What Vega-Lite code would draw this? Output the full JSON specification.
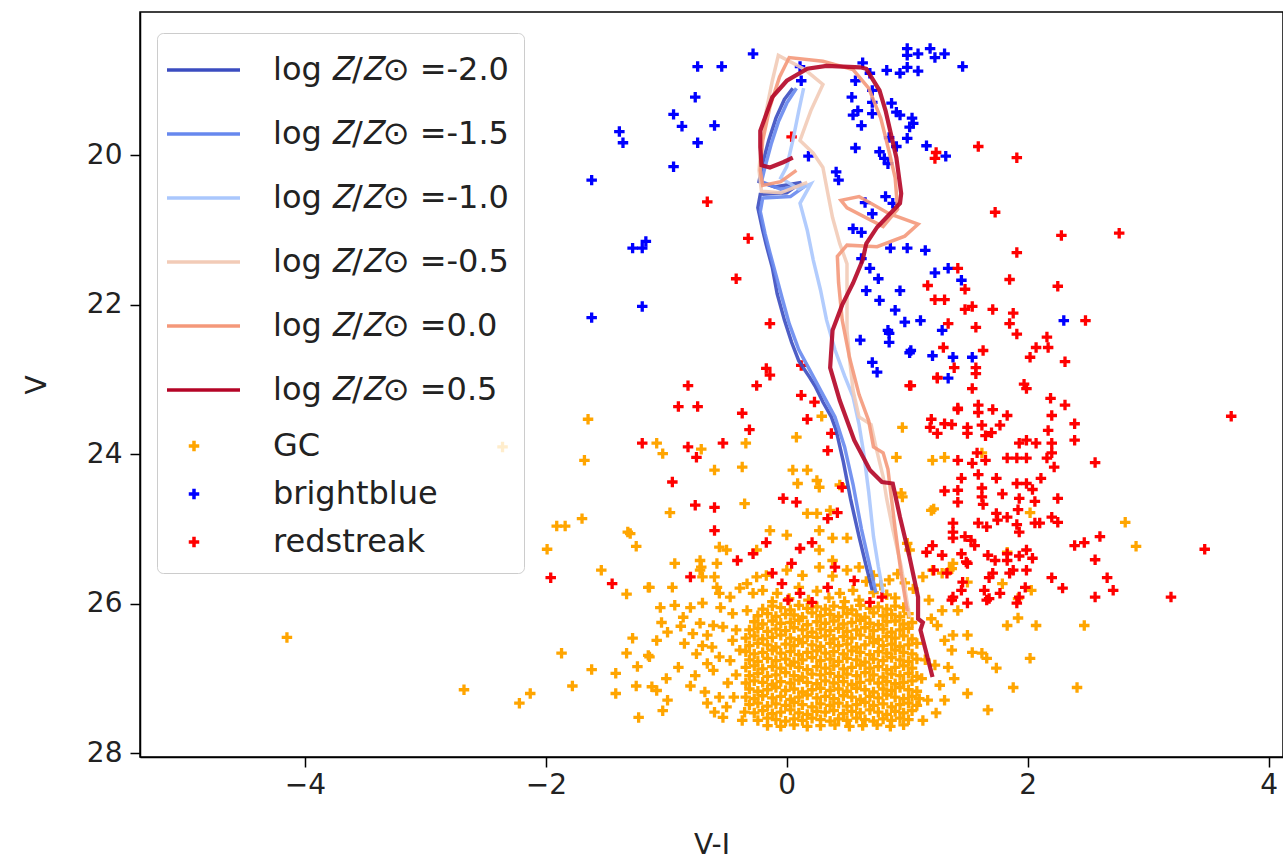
{
"$schema":"https://vega.github.io/schema/vega-lite/v6.json",
"width":1143,"height":745,
"autosize":{"type":"none"},
"padding":{"left":140,"top":12,"right":0,"bottom":107},
"config":{
"view":{"stroke":"#000","strokeWidth":1.5},
"axis":{"domainColor":"#000","domainWidth":1.5,"tickColor":"#000","tickWidth":1.5,"tickSize":10,"labelFont":"DejaVu Sans","labelFontSize":28,"labelColor":"#222","titleFont":"DejaVu Sans","titleFontSize":28,"titleFontWeight":"normal","titleColor":"#222","grid":false,"labelPadding":8}
},
"datasets":{
"iso":[
{"s":"-2.0","i":0,"c":0.05,"v":19.1},{"s":"-2.0","i":1,"c":-0.02,"v":19.25},{"s":"-2.0","i":2,"c":-0.09,"v":19.5},{"s":"-2.0","i":3,"c":-0.15,"v":19.8},{"s":"-2.0","i":4,"c":-0.2,"v":20.1},{"s":"-2.0","i":5,"c":-0.23,"v":20.35},{"s":"-2.0","i":6,"c":-0.1,"v":20.42},{"s":"-2.0","i":7,"c":0.12,"v":20.36},{"s":"-2.0","i":8,"c":0.0,"v":20.5},{"s":"-2.0","i":9,"c":-0.22,"v":20.52},{"s":"-2.0","i":10,"c":-0.24,"v":20.7},{"s":"-2.0","i":11,"c":-0.2,"v":21.0},{"s":"-2.0","i":12,"c":-0.17,"v":21.2},{"s":"-2.0","i":13,"c":-0.12,"v":21.5},{"s":"-2.0","i":14,"c":-0.08,"v":21.85},{"s":"-2.0","i":15,"c":-0.02,"v":22.2},{"s":"-2.0","i":16,"c":0.04,"v":22.5},{"s":"-2.0","i":17,"c":0.1,"v":22.75},{"s":"-2.0","i":18,"c":0.19,"v":22.97},{"s":"-2.0","i":19,"c":0.24,"v":23.1},{"s":"-2.0","i":20,"c":0.3,"v":23.3},{"s":"-2.0","i":21,"c":0.37,"v":23.5},{"s":"-2.0","i":22,"c":0.41,"v":23.68},{"s":"-2.0","i":23,"c":0.47,"v":24.1},{"s":"-2.0","i":24,"c":0.53,"v":24.6},{"s":"-2.0","i":25,"c":0.6,"v":25.1},{"s":"-2.0","i":26,"c":0.66,"v":25.5},{"s":"-2.0","i":27,"c":0.71,"v":25.82},
{"s":"-1.5","i":0,"c":0.08,"v":19.1},{"s":"-1.5","i":1,"c":0.0,"v":19.3},{"s":"-1.5","i":2,"c":-0.07,"v":19.55},{"s":"-1.5","i":3,"c":-0.13,"v":19.85},{"s":"-1.5","i":4,"c":-0.18,"v":20.15},{"s":"-1.5","i":5,"c":-0.21,"v":20.35},{"s":"-1.5","i":6,"c":-0.05,"v":20.45},{"s":"-1.5","i":7,"c":0.16,"v":20.4},{"s":"-1.5","i":8,"c":0.03,"v":20.55},{"s":"-1.5","i":9,"c":-0.2,"v":20.57},{"s":"-1.5","i":10,"c":-0.22,"v":20.75},{"s":"-1.5","i":11,"c":-0.18,"v":21.05},{"s":"-1.5","i":12,"c":-0.14,"v":21.3},{"s":"-1.5","i":13,"c":-0.09,"v":21.6},{"s":"-1.5","i":14,"c":-0.04,"v":21.9},{"s":"-1.5","i":15,"c":0.02,"v":22.25},{"s":"-1.5","i":16,"c":0.1,"v":22.6},{"s":"-1.5","i":17,"c":0.2,"v":22.9},{"s":"-1.5","i":18,"c":0.3,"v":23.2},{"s":"-1.5","i":19,"c":0.4,"v":23.5},{"s":"-1.5","i":20,"c":0.48,"v":23.9},{"s":"-1.5","i":21,"c":0.55,"v":24.4},{"s":"-1.5","i":22,"c":0.62,"v":25.0},{"s":"-1.5","i":23,"c":0.69,"v":25.5},{"s":"-1.5","i":24,"c":0.74,"v":25.85},
{"s":"-1.0","i":0,"c":0.14,"v":19.1},{"s":"-1.0","i":1,"c":0.1,"v":19.4},{"s":"-1.0","i":2,"c":0.05,"v":19.8},{"s":"-1.0","i":3,"c":0.0,"v":20.15},{"s":"-1.0","i":4,"c":-0.05,"v":20.3},{"s":"-1.0","i":5,"c":0.1,"v":20.45},{"s":"-1.0","i":6,"c":0.2,"v":20.38},{"s":"-1.0","i":7,"c":0.11,"v":20.64},{"s":"-1.0","i":8,"c":0.17,"v":21.0},{"s":"-1.0","i":9,"c":0.22,"v":21.4},{"s":"-1.0","i":10,"c":0.28,"v":21.8},{"s":"-1.0","i":11,"c":0.33,"v":22.2},{"s":"-1.0","i":12,"c":0.4,"v":22.6},{"s":"-1.0","i":13,"c":0.48,"v":22.95},{"s":"-1.0","i":14,"c":0.55,"v":23.23},{"s":"-1.0","i":15,"c":0.6,"v":23.6},{"s":"-1.0","i":16,"c":0.64,"v":24.0},{"s":"-1.0","i":17,"c":0.68,"v":24.5},{"s":"-1.0","i":18,"c":0.72,"v":25.1},{"s":"-1.0","i":19,"c":0.76,"v":25.5},{"s":"-1.0","i":20,"c":0.8,"v":25.85},
{"s":"-0.5","i":0,"c":1.02,"v":26.18},{"s":"-0.5","i":1,"c":0.95,"v":25.5},{"s":"-0.5","i":2,"c":0.88,"v":25.0},{"s":"-0.5","i":3,"c":0.83,"v":24.6},{"s":"-0.5","i":4,"c":0.8,"v":24.3},{"s":"-0.5","i":5,"c":0.74,"v":23.9},{"s":"-0.5","i":6,"c":0.7,"v":23.6},{"s":"-0.5","i":7,"c":0.6,"v":23.5},{"s":"-0.5","i":8,"c":0.55,"v":23.14},{"s":"-0.5","i":9,"c":0.52,"v":22.7},{"s":"-0.5","i":10,"c":0.5,"v":22.34},{"s":"-0.5","i":11,"c":0.5,"v":21.9},{"s":"-0.5","i":12,"c":0.5,"v":21.45},{"s":"-0.5","i":13,"c":0.44,"v":21.18},{"s":"-0.5","i":14,"c":0.38,"v":20.83},{"s":"-0.5","i":15,"c":0.34,"v":20.5},{"s":"-0.5","i":16,"c":0.3,"v":20.16},{"s":"-0.5","i":17,"c":0.22,"v":19.97},{"s":"-0.5","i":18,"c":0.11,"v":19.8},{"s":"-0.5","i":19,"c":0.2,"v":19.4},{"s":"-0.5","i":20,"c":0.3,"v":19.05},{"s":"-0.5","i":21,"c":0.15,"v":18.85},{"s":"-0.5","i":22,"c":-0.07,"v":18.66},{"s":"-0.5","i":23,"c":-0.12,"v":19.0},{"s":"-0.5","i":24,"c":-0.17,"v":19.4},{"s":"-0.5","i":25,"c":-0.21,"v":19.8},{"s":"-0.5","i":26,"c":-0.23,"v":20.2},{"s":"-0.5","i":27,"c":-0.21,"v":20.48},{"s":"-0.5","i":28,"c":-0.05,"v":20.5},{"s":"-0.5","i":29,"c":0.17,"v":20.36},
{"s":"0.0","i":0,"c":1.0,"v":26.1},{"s":"0.0","i":1,"c":0.95,"v":25.6},{"s":"0.0","i":2,"c":0.9,"v":25.0},{"s":"0.0","i":3,"c":0.87,"v":24.6},{"s":"0.0","i":4,"c":0.84,"v":24.2},{"s":"0.0","i":5,"c":0.8,"v":23.98},{"s":"0.0","i":6,"c":0.72,"v":23.9},{"s":"0.0","i":7,"c":0.68,"v":23.55},{"s":"0.0","i":8,"c":0.6,"v":23.2},{"s":"0.0","i":9,"c":0.52,"v":22.7},{"s":"0.0","i":10,"c":0.46,"v":22.2},{"s":"0.0","i":11,"c":0.43,"v":21.7},{"s":"0.0","i":12,"c":0.42,"v":21.35},{"s":"0.0","i":13,"c":0.5,"v":21.2},{"s":"0.0","i":14,"c":0.75,"v":21.22},{"s":"0.0","i":15,"c":0.98,"v":21.08},{"s":"0.0","i":16,"c":1.09,"v":20.92},{"s":"0.0","i":17,"c":0.85,"v":20.78},{"s":"0.0","i":18,"c":0.6,"v":20.55},{"s":"0.0","i":19,"c":0.45,"v":20.6},{"s":"0.0","i":20,"c":0.5,"v":20.7},{"s":"0.0","i":21,"c":0.8,"v":20.95},{"s":"0.0","i":22,"c":0.92,"v":20.72},{"s":"0.0","i":23,"c":0.9,"v":20.3},{"s":"0.0","i":24,"c":0.85,"v":19.95},{"s":"0.0","i":25,"c":0.78,"v":19.5},{"s":"0.0","i":26,"c":0.68,"v":19.1},{"s":"0.0","i":27,"c":0.55,"v":18.85},{"s":"0.0","i":28,"c":0.3,"v":18.74},{"s":"0.0","i":29,"c":0.02,"v":18.69},{"s":"0.0","i":30,"c":-0.06,"v":18.95},{"s":"0.0","i":31,"c":-0.14,"v":19.35},{"s":"0.0","i":32,"c":-0.2,"v":19.8},{"s":"0.0","i":33,"c":-0.22,"v":20.2},{"s":"0.0","i":34,"c":-0.2,"v":20.4},{"s":"0.0","i":35,"c":-0.05,"v":20.35},{"s":"0.0","i":36,"c":0.08,"v":20.2},
{"s":"0.5","i":0,"c":1.21,"v":26.98},{"s":"0.5","i":1,"c":1.15,"v":26.6},{"s":"0.5","i":2,"c":1.11,"v":26.35},{"s":"0.5","i":3,"c":1.13,"v":26.25},{"s":"0.5","i":4,"c":1.09,"v":26.2},{"s":"0.5","i":5,"c":1.09,"v":25.91},{"s":"0.5","i":6,"c":1.02,"v":25.38},{"s":"0.5","i":7,"c":0.94,"v":24.84},{"s":"0.5","i":8,"c":0.88,"v":24.39},{"s":"0.5","i":9,"c":0.79,"v":24.37},{"s":"0.5","i":10,"c":0.69,"v":24.21},{"s":"0.5","i":11,"c":0.56,"v":23.81},{"s":"0.5","i":12,"c":0.44,"v":23.28},{"s":"0.5","i":13,"c":0.36,"v":22.84},{"s":"0.5","i":14,"c":0.38,"v":22.34},{"s":"0.5","i":15,"c":0.46,"v":22.0},{"s":"0.5","i":16,"c":0.55,"v":21.71},{"s":"0.5","i":17,"c":0.63,"v":21.4},{"s":"0.5","i":18,"c":0.66,"v":21.18},{"s":"0.5","i":19,"c":0.75,"v":20.96},{"s":"0.5","i":20,"c":0.94,"v":20.64},{"s":"0.5","i":21,"c":0.95,"v":20.51},{"s":"0.5","i":22,"c":0.91,"v":20.03},{"s":"0.5","i":23,"c":0.87,"v":19.75},{"s":"0.5","i":24,"c":0.82,"v":19.4},{"s":"0.5","i":25,"c":0.77,"v":19.13},{"s":"0.5","i":26,"c":0.66,"v":18.84},{"s":"0.5","i":27,"c":0.61,"v":18.82},{"s":"0.5","i":28,"c":0.33,"v":18.8},{"s":"0.5","i":29,"c":0.17,"v":18.84},{"s":"0.5","i":30,"c":0.0,"v":19.0},{"s":"0.5","i":31,"c":-0.12,"v":19.22},{"s":"0.5","i":32,"c":-0.18,"v":19.49},{"s":"0.5","i":33,"c":-0.22,"v":19.67},{"s":"0.5","i":34,"c":-0.22,"v":19.89},{"s":"0.5","i":35,"c":-0.21,"v":20.13},{"s":"0.5","i":36,"c":-0.14,"v":20.16},{"s":"0.5","i":37,"c":-0.03,"v":20.09},{"s":"0.5","i":38,"c":0.05,"v":20.03}
],
"pts":[
{"s":"GC","c":-4.15,"v":26.45},{"s":"GC","c":-2.68,"v":27.15},{"s":"GC","c":-2.22,"v":27.33},{"s":"GC","c":-2.13,"v":27.2},{"s":"GC","c":-2.36,"v":23.9},{"s":"GC","c":-1.65,"v":23.53},{"s":"GC","c":-1.68,"v":24.08},{"s":"GC","c":-1.7,"v":24.86},{"s":"GC","c":-1.91,"v":24.96},{"s":"GC","c":-1.84,"v":24.96},{"s":"GC","c":-1.99,"v":25.27},{"s":"GC","c":-1.3,"v":25.06},{"s":"GC","c":-1.25,"v":25.23},{"s":"GC","c":-1.54,"v":25.55},{"s":"GC","c":-1.33,"v":25.87},{"s":"GC","c":-1.15,"v":25.78},{"s":"GC","c":-1.28,"v":26.46},{"s":"GC","c":-1.33,"v":26.66},{"s":"GC","c":-1.15,"v":26.69},{"s":"GC","c":-1.87,"v":26.66},{"s":"GC","c":-1.62,"v":26.88},{"s":"GC","c":-1.42,"v":26.93},{"s":"GC","c":-1.24,"v":26.84},{"s":"GC","c":-1.25,"v":27.1},{"s":"GC","c":-1.78,"v":27.1},{"s":"GC","c":-1.42,"v":27.2},{"s":"GC","c":-1.23,"v":27.52},
{"s":"GC","c":0.29,"v":23.49},{"s":"GC","c":0.08,"v":23.77},{"s":"GC","c":-0.34,"v":23.85},{"s":"GC","c":-1.08,"v":23.85},{"s":"GC","c":-1.03,"v":23.99},{"s":"GC","c":-0.71,"v":23.93},{"s":"GC","c":-0.37,"v":24.17},{"s":"GC","c":-0.6,"v":24.21},{"s":"GC","c":0.05,"v":24.21},{"s":"GC","c":0.17,"v":24.21},{"s":"GC","c":0.09,"v":24.39},{"s":"GC","c":0.25,"v":24.35},{"s":"GC","c":0.27,"v":24.44},{"s":"GC","c":0.44,"v":24.41},{"s":"GC","c":0.91,"v":24.04},{"s":"GC","c":0.96,"v":23.64},{"s":"GC","c":0.95,"v":24.52},{"s":"GC","c":-0.35,"v":24.66},{"s":"GC","c":-0.97,"v":24.78},{"s":"GC","c":0.17,"v":24.79},{"s":"GC","c":0.25,"v":24.79},{"s":"GC","c":0.36,"v":24.75},{"s":"GC","c":-1.32,"v":25.04},{"s":"GC","c":-0.14,"v":25.02},{"s":"GC","c":0.0,"v":25.08},{"s":"GC","c":0.27,"v":25.02},{"s":"GC","c":0.38,"v":25.12},{"s":"GC","c":0.5,"v":25.12},{"s":"GC","c":-0.56,"v":25.24},{"s":"GC","c":-0.5,"v":25.28},{"s":"GC","c":-0.93,"v":25.46},{"s":"GC","c":-0.72,"v":25.42},{"s":"GC","c":-0.58,"v":25.46},{"s":"GC","c":-0.25,"v":25.28},{"s":"GC","c":0.27,"v":25.28},{"s":"GC","c":0.38,"v":25.42},{"s":"GC","c":0.5,"v":25.55},{"s":"GC","c":-0.72,"v":25.55},{"s":"GC","c":-0.7,"v":25.64},{"s":"GC","c":-1.14,"v":25.78},{"s":"GC","c":-0.95,"v":25.78},{"s":"GC","c":-0.58,"v":25.78},{"s":"GC","c":-0.33,"v":25.73},{"s":"GC","c":-0.25,"v":25.64},{"s":"GC","c":1.21,"v":25.55},{"s":"GC","c":1.2,"v":24.75},{"s":"GC","c":1.21,"v":24.08},{"s":"GC","c":1.31,"v":24.04},{"s":"GC","c":1.0,"v":25.19},{"s":"GC","c":1.02,"v":25.28},{"s":"GC","c":1.13,"v":25.64},{"s":"GC","c":1.35,"v":25.55},{"s":"GC","c":1.38,"v":25.46},
{"s":"GC","c":0.96,"v":24.57},{"s":"GC","c":1.22,"v":24.73},{"s":"GC","c":2.02,"v":24.78},{"s":"GC","c":2.81,"v":24.91},{"s":"GC","c":2.9,"v":25.23},{"s":"GC","c":1.62,"v":23.98},{"s":"GC","c":1.83,"v":25.31},{"s":"GC","c":1.29,"v":25.59},{"s":"GC","c":1.37,"v":25.53},{"s":"GC","c":1.5,"v":25.71},{"s":"GC","c":1.79,"v":25.73},{"s":"GC","c":2.03,"v":25.82},{"s":"GC","c":1.42,"v":26.09},{"s":"GC","c":1.29,"v":26.09},{"s":"GC","c":1.25,"v":26.29},{"s":"GC","c":1.38,"v":26.42},{"s":"GC","c":1.5,"v":26.42},{"s":"GC","c":1.31,"v":26.49},{"s":"GC","c":1.37,"v":26.62},{"s":"GC","c":1.54,"v":26.65},{"s":"GC","c":1.62,"v":26.66},{"s":"GC","c":1.66,"v":26.73},{"s":"GC","c":1.23,"v":26.82},{"s":"GC","c":1.34,"v":26.85},{"s":"GC","c":1.39,"v":27.0},{"s":"GC","c":1.27,"v":27.09},{"s":"GC","c":1.74,"v":26.86},{"s":"GC","c":2.02,"v":26.73},{"s":"GC","c":1.88,"v":27.12},{"s":"GC","c":2.41,"v":27.12},{"s":"GC","c":1.5,"v":27.2},{"s":"GC","c":1.31,"v":27.29},{"s":"GC","c":1.17,"v":27.29},{"s":"GC","c":1.24,"v":27.46},{"s":"GC","c":1.67,"v":27.42},{"s":"GC","c":1.13,"v":27.56},{"s":"GC","c":1.83,"v":26.29},{"s":"GC","c":1.92,"v":26.19},{"s":"GC","c":2.07,"v":26.29},{"s":"GC","c":2.47,"v":26.29},{"s":"GC","c":1.92,"v":25.93},{"s":"GC","c":1.18,"v":25.95},{"s":"GC","c":1.2,"v":26.2},{"s":"GC","c":1.15,"v":26.75},{"s":"GC","c":1.12,"v":27.0},
{"s":"GC","c":-1.05,"v":26.05},{"s":"GC","c":-0.8,"v":26.05},{"s":"GC","c":-0.93,"v":26.02},{"s":"GC","c":-1.04,"v":26.25},{"s":"GC","c":-0.86,"v":26.18},{"s":"GC","c":-0.72,"v":26.26},{"s":"GC","c":-1.08,"v":26.49},{"s":"GC","c":-0.99,"v":26.38},{"s":"GC","c":-0.85,"v":26.53},{"s":"GC","c":-0.7,"v":26.56},{"s":"GC","c":-1.14,"v":26.71},{"s":"GC","c":-1.0,"v":27.0},{"s":"GC","c":-1.12,"v":27.11},{"s":"GC","c":-1.08,"v":27.16},{"s":"GC","c":-0.99,"v":27.29},{"s":"GC","c":-1.03,"v":27.43},{"s":"GC","c":-0.75,"v":26.67},{"s":"GC","c":-0.66,"v":26.8},{"s":"GC","c":-0.56,"v":26.71},{"s":"GC","c":-0.76,"v":26.96},{"s":"GC","c":-0.61,"v":26.89},{"s":"GC","c":-0.49,"v":27.06},{"s":"GC","c":-0.68,"v":27.18},{"s":"GC","c":-0.56,"v":27.25},{"s":"GC","c":-0.66,"v":27.33},{"s":"GC","c":-0.5,"v":27.38},{"s":"GC","c":-0.53,"v":27.52},{"s":"GC","c":-0.35,"v":27.45},{"s":"GC","c":-0.37,"v":27.56},{"s":"GC","c":-0.78,"v":26.4},{"s":"GC","c":-0.53,"v":26.31},{"s":"GC","c":-0.45,"v":26.49},{"s":"GC","c":-0.39,"v":26.62},{"s":"GC","c":-0.47,"v":26.76},{"s":"GC","c":-0.45,"v":26.13},{"s":"GC","c":-0.61,"v":26.29},{"s":"GC","c":-0.33,"v":26.09},{"s":"GC","c":-0.56,"v":25.86},{"s":"GC","c":-0.39,"v":25.79},{"s":"GC","c":-0.47,"v":25.91},{"s":"GC","c":-0.28,"v":25.86},{"s":"GC","c":-0.7,"v":25.99},{"s":"GC","c":-0.6,"v":25.64},{"s":"GC","c":-0.71,"v":25.51},{"s":"GC","c":-0.88,"v":26.3},{"s":"GC","c":-0.62,"v":26.58},{"s":"GC","c":-0.42,"v":26.95},{"s":"GC","c":-0.8,"v":27.1},{"s":"GC","c":-0.44,"v":27.25},{"s":"GC","c":-0.6,"v":27.45},{"s":"GC","c":-0.9,"v":26.85},{"s":"GC","c":-0.42,"v":26.35},{"s":"GC","c":-0.55,"v":26.05},{"s":"GC","c":-0.66,"v":26.42},
{"s":"GC","c":-0.17,"v":25.62},{"s":"GC","c":0.0,"v":25.55},{"s":"GC","c":0.13,"v":25.62},{"s":"GC","c":0.27,"v":25.51},{"s":"GC","c":0.38,"v":25.63},{"s":"GC","c":0.6,"v":25.51},{"s":"GC","c":-0.2,"v":25.82},{"s":"GC","c":-0.08,"v":25.86},{"s":"GC","c":0.25,"v":25.83},{"s":"GC","c":0.44,"v":25.86},{"s":"GC","c":0.55,"v":25.82},{"s":"GC","c":0.6,"v":25.95},{"s":"GC","c":0.66,"v":25.7},{"s":"GC","c":0.72,"v":25.62},{"s":"GC","c":0.78,"v":25.75},{"s":"GC","c":0.85,"v":25.68},{"s":"GC","c":0.92,"v":25.6},{"s":"GC","c":0.98,"v":25.72},{"s":"GC","c":1.05,"v":25.8},{"s":"GC","c":0.83,"v":25.88},{"s":"GC","c":0.72,"v":25.85},{"s":"GC","c":0.9,"v":25.92},{"s":"GC","c":0.35,"v":25.92},{"s":"GC","c":0.1,"v":25.78},{"s":"GC","c":0.02,"v":25.93},{"s":"GC","c":0.18,"v":25.95},{"s":"GC","c":0.48,"v":25.97},{"s":"GC","c":-0.12,"v":25.97},
{"s":"GC","c":-0.2,"v":26.07},{"s":"GC","c":-0.12,"v":26.03},{"s":"GC","c":-0.05,"v":26.05},{"s":"GC","c":0.03,"v":26.08},{"s":"GC","c":0.1,"v":26.02},{"s":"GC","c":0.17,"v":26.06},{"s":"GC","c":0.25,"v":26.04},{"s":"GC","c":0.32,"v":26.07},{"s":"GC","c":0.39,"v":26.03},{"s":"GC","c":0.47,"v":26.05},{"s":"GC","c":0.54,"v":26.08},{"s":"GC","c":0.61,"v":26.02},{"s":"GC","c":0.69,"v":26.06},{"s":"GC","c":0.76,"v":26.04},{"s":"GC","c":0.83,"v":26.07},{"s":"GC","c":0.9,"v":26.03},{"s":"GC","c":0.97,"v":26.05},
{"s":"GC","c":-0.24,"v":26.16},{"s":"GC","c":-0.16,"v":26.13},{"s":"GC","c":-0.09,"v":26.17},{"s":"GC","c":-0.01,"v":26.14},{"s":"GC","c":0.06,"v":26.15},{"s":"GC","c":0.13,"v":26.18},{"s":"GC","c":0.21,"v":26.12},{"s":"GC","c":0.28,"v":26.16},{"s":"GC","c":0.36,"v":26.14},{"s":"GC","c":0.43,"v":26.17},{"s":"GC","c":0.5,"v":26.13},{"s":"GC","c":0.58,"v":26.15},{"s":"GC","c":0.65,"v":26.18},{"s":"GC","c":0.72,"v":26.12},{"s":"GC","c":0.8,"v":26.16},{"s":"GC","c":0.87,"v":26.14},{"s":"GC","c":0.94,"v":26.17},{"s":"GC","c":1.01,"v":26.13},
{"s":"GC","c":-0.27,"v":26.24},{"s":"GC","c":-0.2,"v":26.27},{"s":"GC","c":-0.12,"v":26.23},{"s":"GC","c":-0.05,"v":26.26},{"s":"GC","c":0.03,"v":26.25},{"s":"GC","c":0.1,"v":26.22},{"s":"GC","c":0.17,"v":26.28},{"s":"GC","c":0.25,"v":26.24},{"s":"GC","c":0.32,"v":26.26},{"s":"GC","c":0.39,"v":26.23},{"s":"GC","c":0.47,"v":26.27},{"s":"GC","c":0.54,"v":26.25},{"s":"GC","c":0.61,"v":26.22},{"s":"GC","c":0.69,"v":26.26},{"s":"GC","c":0.76,"v":26.28},{"s":"GC","c":0.83,"v":26.24},{"s":"GC","c":0.9,"v":26.23},{"s":"GC","c":0.97,"v":26.27},{"s":"GC","c":1.04,"v":26.25},
{"s":"GC","c":-0.31,"v":26.35},{"s":"GC","c":-0.24,"v":26.33},{"s":"GC","c":-0.16,"v":26.37},{"s":"GC","c":-0.09,"v":26.34},{"s":"GC","c":-0.01,"v":26.36},{"s":"GC","c":0.06,"v":26.32},{"s":"GC","c":0.13,"v":26.35},{"s":"GC","c":0.21,"v":26.38},{"s":"GC","c":0.28,"v":26.34},{"s":"GC","c":0.36,"v":26.36},{"s":"GC","c":0.43,"v":26.33},{"s":"GC","c":0.5,"v":26.37},{"s":"GC","c":0.58,"v":26.35},{"s":"GC","c":0.65,"v":26.32},{"s":"GC","c":0.72,"v":26.36},{"s":"GC","c":0.8,"v":26.34},{"s":"GC","c":0.87,"v":26.38},{"s":"GC","c":0.94,"v":26.35},{"s":"GC","c":1.01,"v":26.33},
{"s":"GC","c":-0.34,"v":26.46},{"s":"GC","c":-0.27,"v":26.43},{"s":"GC","c":-0.2,"v":26.47},{"s":"GC","c":-0.12,"v":26.45},{"s":"GC","c":-0.05,"v":26.42},{"s":"GC","c":0.03,"v":26.46},{"s":"GC","c":0.1,"v":26.48},{"s":"GC","c":0.17,"v":26.44},{"s":"GC","c":0.25,"v":26.45},{"s":"GC","c":0.32,"v":26.43},{"s":"GC","c":0.39,"v":26.47},{"s":"GC","c":0.47,"v":26.44},{"s":"GC","c":0.54,"v":26.46},{"s":"GC","c":0.61,"v":26.42},{"s":"GC","c":0.69,"v":26.45},{"s":"GC","c":0.76,"v":26.48},{"s":"GC","c":0.83,"v":26.44},{"s":"GC","c":0.9,"v":26.46},{"s":"GC","c":0.97,"v":26.43},{"s":"GC","c":1.04,"v":26.47},
{"s":"GC","c":-0.31,"v":26.56},{"s":"GC","c":-0.24,"v":26.53},{"s":"GC","c":-0.16,"v":26.55},{"s":"GC","c":-0.09,"v":26.58},{"s":"GC","c":-0.01,"v":26.54},{"s":"GC","c":0.06,"v":26.56},{"s":"GC","c":0.13,"v":26.52},{"s":"GC","c":0.21,"v":26.55},{"s":"GC","c":0.28,"v":26.57},{"s":"GC","c":0.36,"v":26.53},{"s":"GC","c":0.43,"v":26.56},{"s":"GC","c":0.5,"v":26.54},{"s":"GC","c":0.58,"v":26.58},{"s":"GC","c":0.65,"v":26.55},{"s":"GC","c":0.72,"v":26.52},{"s":"GC","c":0.8,"v":26.56},{"s":"GC","c":0.87,"v":26.54},{"s":"GC","c":0.94,"v":26.57},{"s":"GC","c":1.01,"v":26.55},{"s":"GC","c":1.08,"v":26.53},
{"s":"GC","c":-0.34,"v":26.64},{"s":"GC","c":-0.27,"v":26.67},{"s":"GC","c":-0.2,"v":26.65},{"s":"GC","c":-0.12,"v":26.62},{"s":"GC","c":-0.05,"v":26.66},{"s":"GC","c":0.03,"v":26.64},{"s":"GC","c":0.1,"v":26.68},{"s":"GC","c":0.17,"v":26.65},{"s":"GC","c":0.25,"v":26.63},{"s":"GC","c":0.32,"v":26.66},{"s":"GC","c":0.39,"v":26.64},{"s":"GC","c":0.47,"v":26.67},{"s":"GC","c":0.54,"v":26.63},{"s":"GC","c":0.61,"v":26.65},{"s":"GC","c":0.69,"v":26.68},{"s":"GC","c":0.76,"v":26.64},{"s":"GC","c":0.83,"v":26.66},{"s":"GC","c":0.9,"v":26.62},{"s":"GC","c":0.97,"v":26.65},{"s":"GC","c":1.04,"v":26.67},
{"s":"GC","c":-0.31,"v":26.75},{"s":"GC","c":-0.24,"v":26.77},{"s":"GC","c":-0.16,"v":26.73},{"s":"GC","c":-0.09,"v":26.76},{"s":"GC","c":-0.01,"v":26.74},{"s":"GC","c":0.06,"v":26.78},{"s":"GC","c":0.13,"v":26.75},{"s":"GC","c":0.21,"v":26.72},{"s":"GC","c":0.28,"v":26.76},{"s":"GC","c":0.36,"v":26.74},{"s":"GC","c":0.43,"v":26.77},{"s":"GC","c":0.5,"v":26.73},{"s":"GC","c":0.58,"v":26.75},{"s":"GC","c":0.65,"v":26.78},{"s":"GC","c":0.72,"v":26.74},{"s":"GC","c":0.8,"v":26.76},{"s":"GC","c":0.87,"v":26.72},{"s":"GC","c":0.94,"v":26.75},{"s":"GC","c":1.01,"v":26.77},{"s":"GC","c":1.08,"v":26.74},
{"s":"GC","c":-0.34,"v":26.85},{"s":"GC","c":-0.27,"v":26.83},{"s":"GC","c":-0.2,"v":26.87},{"s":"GC","c":-0.12,"v":26.84},{"s":"GC","c":-0.05,"v":26.86},{"s":"GC","c":0.03,"v":26.82},{"s":"GC","c":0.1,"v":26.85},{"s":"GC","c":0.17,"v":26.88},{"s":"GC","c":0.25,"v":26.84},{"s":"GC","c":0.32,"v":26.86},{"s":"GC","c":0.39,"v":26.83},{"s":"GC","c":0.47,"v":26.87},{"s":"GC","c":0.54,"v":26.85},{"s":"GC","c":0.61,"v":26.82},{"s":"GC","c":0.69,"v":26.86},{"s":"GC","c":0.76,"v":26.84},{"s":"GC","c":0.83,"v":26.88},{"s":"GC","c":0.9,"v":26.85},{"s":"GC","c":0.97,"v":26.83},{"s":"GC","c":1.04,"v":26.86},
{"s":"GC","c":-0.31,"v":26.96},{"s":"GC","c":-0.24,"v":26.93},{"s":"GC","c":-0.16,"v":26.97},{"s":"GC","c":-0.09,"v":26.95},{"s":"GC","c":-0.01,"v":26.92},{"s":"GC","c":0.06,"v":26.96},{"s":"GC","c":0.13,"v":26.98},{"s":"GC","c":0.21,"v":26.94},{"s":"GC","c":0.28,"v":26.95},{"s":"GC","c":0.36,"v":26.93},{"s":"GC","c":0.43,"v":26.97},{"s":"GC","c":0.5,"v":26.94},{"s":"GC","c":0.58,"v":26.96},{"s":"GC","c":0.65,"v":26.92},{"s":"GC","c":0.72,"v":26.95},{"s":"GC","c":0.8,"v":26.98},{"s":"GC","c":0.87,"v":26.94},{"s":"GC","c":0.94,"v":26.96},{"s":"GC","c":1.01,"v":26.93},{"s":"GC","c":1.08,"v":26.97},
{"s":"GC","c":-0.34,"v":27.06},{"s":"GC","c":-0.27,"v":27.03},{"s":"GC","c":-0.2,"v":27.05},{"s":"GC","c":-0.12,"v":27.08},{"s":"GC","c":-0.05,"v":27.04},{"s":"GC","c":0.03,"v":27.06},{"s":"GC","c":0.1,"v":27.02},{"s":"GC","c":0.17,"v":27.05},{"s":"GC","c":0.25,"v":27.07},{"s":"GC","c":0.32,"v":27.03},{"s":"GC","c":0.39,"v":27.06},{"s":"GC","c":0.47,"v":27.04},{"s":"GC","c":0.54,"v":27.08},{"s":"GC","c":0.61,"v":27.05},{"s":"GC","c":0.69,"v":27.02},{"s":"GC","c":0.76,"v":27.06},{"s":"GC","c":0.83,"v":27.04},{"s":"GC","c":0.9,"v":27.07},{"s":"GC","c":0.97,"v":27.05},{"s":"GC","c":1.04,"v":27.03},
{"s":"GC","c":-0.31,"v":27.14},{"s":"GC","c":-0.24,"v":27.17},{"s":"GC","c":-0.16,"v":27.15},{"s":"GC","c":-0.09,"v":27.12},{"s":"GC","c":-0.01,"v":27.16},{"s":"GC","c":0.06,"v":27.14},{"s":"GC","c":0.13,"v":27.18},{"s":"GC","c":0.21,"v":27.15},{"s":"GC","c":0.28,"v":27.13},{"s":"GC","c":0.36,"v":27.16},{"s":"GC","c":0.43,"v":27.14},{"s":"GC","c":0.5,"v":27.17},{"s":"GC","c":0.58,"v":27.13},{"s":"GC","c":0.65,"v":27.15},{"s":"GC","c":0.72,"v":27.18},{"s":"GC","c":0.8,"v":27.14},{"s":"GC","c":0.87,"v":27.16},{"s":"GC","c":0.94,"v":27.12},{"s":"GC","c":1.01,"v":27.15},{"s":"GC","c":1.08,"v":27.17},
{"s":"GC","c":-0.34,"v":27.25},{"s":"GC","c":-0.27,"v":27.27},{"s":"GC","c":-0.2,"v":27.23},{"s":"GC","c":-0.12,"v":27.26},{"s":"GC","c":-0.05,"v":27.24},{"s":"GC","c":0.03,"v":27.28},{"s":"GC","c":0.1,"v":27.25},{"s":"GC","c":0.17,"v":27.22},{"s":"GC","c":0.25,"v":27.26},{"s":"GC","c":0.32,"v":27.24},{"s":"GC","c":0.39,"v":27.27},{"s":"GC","c":0.47,"v":27.23},{"s":"GC","c":0.54,"v":27.25},{"s":"GC","c":0.61,"v":27.28},{"s":"GC","c":0.69,"v":27.24},{"s":"GC","c":0.76,"v":27.26},{"s":"GC","c":0.83,"v":27.22},{"s":"GC","c":0.9,"v":27.25},{"s":"GC","c":0.97,"v":27.27},{"s":"GC","c":1.04,"v":27.24},{"s":"GC","c":1.1,"v":27.27},
{"s":"GC","c":-0.31,"v":27.35},{"s":"GC","c":-0.24,"v":27.33},{"s":"GC","c":-0.16,"v":27.37},{"s":"GC","c":-0.09,"v":27.34},{"s":"GC","c":-0.01,"v":27.36},{"s":"GC","c":0.06,"v":27.32},{"s":"GC","c":0.13,"v":27.35},{"s":"GC","c":0.21,"v":27.38},{"s":"GC","c":0.28,"v":27.34},{"s":"GC","c":0.36,"v":27.36},{"s":"GC","c":0.43,"v":27.33},{"s":"GC","c":0.5,"v":27.37},{"s":"GC","c":0.58,"v":27.35},{"s":"GC","c":0.65,"v":27.32},{"s":"GC","c":0.72,"v":27.36},{"s":"GC","c":0.8,"v":27.34},{"s":"GC","c":0.87,"v":27.38},{"s":"GC","c":0.94,"v":27.35},{"s":"GC","c":1.01,"v":27.33},{"s":"GC","c":1.08,"v":27.36},
{"s":"GC","c":-0.27,"v":27.46},{"s":"GC","c":-0.2,"v":27.43},{"s":"GC","c":-0.12,"v":27.47},{"s":"GC","c":-0.05,"v":27.45},{"s":"GC","c":0.03,"v":27.42},{"s":"GC","c":0.1,"v":27.46},{"s":"GC","c":0.17,"v":27.48},{"s":"GC","c":0.25,"v":27.44},{"s":"GC","c":0.32,"v":27.45},{"s":"GC","c":0.39,"v":27.43},{"s":"GC","c":0.47,"v":27.47},{"s":"GC","c":0.54,"v":27.44},{"s":"GC","c":0.61,"v":27.46},{"s":"GC","c":0.69,"v":27.42},{"s":"GC","c":0.76,"v":27.45},{"s":"GC","c":0.83,"v":27.48},{"s":"GC","c":0.9,"v":27.44},{"s":"GC","c":0.97,"v":27.46},{"s":"GC","c":1.04,"v":27.43},
{"s":"GC","c":-0.24,"v":27.56},{"s":"GC","c":-0.16,"v":27.53},{"s":"GC","c":-0.09,"v":27.55},{"s":"GC","c":-0.01,"v":27.57},{"s":"GC","c":0.06,"v":27.54},{"s":"GC","c":0.13,"v":27.56},{"s":"GC","c":0.21,"v":27.53},{"s":"GC","c":0.28,"v":27.55},{"s":"GC","c":0.36,"v":27.57},{"s":"GC","c":0.43,"v":27.54},{"s":"GC","c":0.5,"v":27.56},{"s":"GC","c":0.58,"v":27.53},{"s":"GC","c":0.65,"v":27.55},{"s":"GC","c":0.72,"v":27.57},{"s":"GC","c":0.8,"v":27.54},{"s":"GC","c":0.87,"v":27.56},{"s":"GC","c":0.94,"v":27.53},{"s":"GC","c":1.01,"v":27.55},
{"s":"GC","c":-0.16,"v":27.63},{"s":"GC","c":-0.05,"v":27.64},{"s":"GC","c":0.06,"v":27.62},{"s":"GC","c":0.17,"v":27.64},{"s":"GC","c":0.28,"v":27.63},{"s":"GC","c":0.4,"v":27.62},{"s":"GC","c":0.52,"v":27.64},{"s":"GC","c":0.63,"v":27.63},{"s":"GC","c":0.75,"v":27.62},{"s":"GC","c":0.86,"v":27.64},{"s":"GC","c":0.97,"v":27.62},
{"s":"brightblue","c":-0.28,"v":18.64},{"s":"brightblue","c":-0.74,"v":18.81},{"s":"brightblue","c":-0.54,"v":18.81},{"s":"brightblue","c":-0.76,"v":19.22},{"s":"brightblue","c":-0.94,"v":19.45},{"s":"brightblue","c":-0.87,"v":19.61},{"s":"brightblue","c":-0.6,"v":19.6},{"s":"brightblue","c":-1.39,"v":19.68},{"s":"brightblue","c":-1.36,"v":19.83},{"s":"brightblue","c":-0.74,"v":19.83},{"s":"brightblue","c":-0.94,"v":20.15},{"s":"brightblue","c":-1.62,"v":20.33},{"s":"brightblue","c":-1.28,"v":21.24},{"s":"brightblue","c":-1.17,"v":21.15},{"s":"brightblue","c":-1.2,"v":21.24},{"s":"brightblue","c":1.0,"v":18.57},{"s":"brightblue","c":1.0,"v":18.66},{"s":"brightblue","c":1.09,"v":18.64},{"s":"brightblue","c":1.19,"v":18.57},{"s":"brightblue","c":1.23,"v":18.69},{"s":"brightblue","c":1.31,"v":18.64},{"s":"brightblue","c":1.46,"v":18.81},{"s":"brightblue","c":0.83,"v":18.86},{"s":"brightblue","c":0.94,"v":18.9},{"s":"brightblue","c":1.0,"v":18.82},{"s":"brightblue","c":1.09,"v":18.87},{"s":"brightblue","c":0.63,"v":18.76},{"s":"brightblue","c":0.69,"v":18.9},{"s":"brightblue","c":0.57,"v":19.0},{"s":"brightblue","c":0.71,"v":19.13},{"s":"brightblue","c":0.54,"v":19.22},{"s":"brightblue","c":0.71,"v":19.29},{"s":"brightblue","c":0.87,"v":19.3},{"s":"brightblue","c":0.91,"v":19.42},{"s":"brightblue","c":0.94,"v":19.46},{"s":"brightblue","c":0.55,"v":19.46},{"s":"brightblue","c":0.59,"v":19.4},{"s":"brightblue","c":0.62,"v":19.6},{"s":"brightblue","c":0.71,"v":19.44},{"s":"brightblue","c":1.04,"v":19.5},{"s":"brightblue","c":1.05,"v":19.57},{"s":"brightblue","c":1.02,"v":19.62},{"s":"brightblue","c":0.85,"v":19.76},{"s":"brightblue","c":1.0,"v":19.77},{"s":"brightblue","c":0.91,"v":19.88},{"s":"brightblue","c":1.16,"v":19.87},{"s":"brightblue","c":1.32,"v":20.01},{"s":"brightblue","c":0.57,"v":19.9},{"s":"brightblue","c":0.77,"v":19.95},{"s":"brightblue","c":0.81,"v":20.04},{"s":"brightblue","c":0.84,"v":20.11},{"s":"brightblue","c":0.18,"v":20.01},{"s":"brightblue","c":0.41,"v":20.22},{"s":"brightblue","c":0.43,"v":20.33},{"s":"brightblue","c":0.82,"v":20.55},{"s":"brightblue","c":0.88,"v":20.64},{"s":"brightblue","c":0.65,"v":20.63},{"s":"brightblue","c":0.71,"v":20.78},{"s":"brightblue","c":0.55,"v":20.98},{"s":"brightblue","c":0.62,"v":21.03},{"s":"brightblue","c":0.86,"v":21.24},{"s":"brightblue","c":1.0,"v":21.24},{"s":"brightblue","c":0.11,"v":18.81},{"s":"brightblue","c":0.12,"v":19.0},
{"s":"brightblue","c":0.85,"v":22.38},{"s":"brightblue","c":0.85,"v":22.5},{"s":"brightblue","c":1.02,"v":22.64},{"s":"brightblue","c":0.71,"v":22.77},{"s":"brightblue","c":0.75,"v":22.9},{"s":"brightblue","c":1.21,"v":22.68},{"s":"brightblue","c":1.38,"v":22.7},{"s":"brightblue","c":1.34,"v":22.98},{"s":"brightblue","c":1.11,"v":22.21},{"s":"brightblue","c":1.03,"v":22.61},{"s":"brightblue","c":1.54,"v":22.7},{"s":"brightblue","c":2.3,"v":22.21},{"s":"brightblue","c":0.62,"v":21.38},{"s":"brightblue","c":0.69,"v":21.51},{"s":"brightblue","c":0.76,"v":21.65},{"s":"brightblue","c":0.66,"v":21.81},{"s":"brightblue","c":0.77,"v":21.94},{"s":"brightblue","c":0.9,"v":22.07},{"s":"brightblue","c":0.98,"v":22.23},{"s":"brightblue","c":0.84,"v":22.34},{"s":"brightblue","c":1.23,"v":21.57},{"s":"brightblue","c":1.34,"v":21.51},{"s":"brightblue","c":1.45,"v":21.67},{"s":"brightblue","c":1.15,"v":21.27},{"s":"brightblue","c":0.94,"v":21.81},{"s":"brightblue","c":0.61,"v":22.47},{"s":"brightblue","c":1.29,"v":22.34},{"s":"brightblue","c":-1.62,"v":22.17},{"s":"brightblue","c":-1.2,"v":22.02},
{"s":"redstreak","c":2.28,"v":21.07},{"s":"redstreak","c":2.76,"v":21.04},{"s":"redstreak","c":1.91,"v":21.3},{"s":"redstreak","c":1.42,"v":21.51},{"s":"redstreak","c":1.85,"v":21.66},{"s":"redstreak","c":2.25,"v":21.75},{"s":"redstreak","c":1.17,"v":21.74},{"s":"redstreak","c":1.48,"v":21.79},{"s":"redstreak","c":1.23,"v":21.93},{"s":"redstreak","c":1.31,"v":21.93},{"s":"redstreak","c":1.48,"v":22.06},{"s":"redstreak","c":1.54,"v":22.02},{"s":"redstreak","c":1.71,"v":22.06},{"s":"redstreak","c":1.88,"v":22.11},{"s":"redstreak","c":1.85,"v":22.25},{"s":"redstreak","c":1.34,"v":22.25},{"s":"redstreak","c":1.57,"v":22.3},{"s":"redstreak","c":1.91,"v":22.39},{"s":"redstreak","c":2.48,"v":22.21},{"s":"redstreak","c":2.16,"v":22.43},{"s":"redstreak","c":2.07,"v":22.57},{"s":"redstreak","c":2.17,"v":22.57},{"s":"redstreak","c":2.31,"v":22.76},{"s":"redstreak","c":2.02,"v":22.7},{"s":"redstreak","c":1.63,"v":22.61},{"s":"redstreak","c":1.3,"v":22.57},{"s":"redstreak","c":1.39,"v":22.84},{"s":"redstreak","c":1.57,"v":22.84},{"s":"redstreak","c":1.57,"v":22.92},{"s":"redstreak","c":1.25,"v":22.98},{"s":"redstreak","c":1.03,"v":23.08},{"s":"redstreak","c":1.54,"v":23.12},{"s":"redstreak","c":1.97,"v":23.06},{"s":"redstreak","c":1.99,"v":23.12},{"s":"redstreak","c":2.19,"v":23.25},{"s":"redstreak","c":2.31,"v":23.34},{"s":"redstreak","c":1.42,"v":23.4},{"s":"redstreak","c":1.59,"v":23.34},{"s":"redstreak","c":1.59,"v":23.44},{"s":"redstreak","c":1.71,"v":23.4},{"s":"redstreak","c":1.83,"v":23.48},{"s":"redstreak","c":2.2,"v":23.48},{"s":"redstreak","c":2.39,"v":23.59},{"s":"redstreak","c":1.2,"v":23.53},{"s":"redstreak","c":1.31,"v":23.59},{"s":"redstreak","c":1.37,"v":23.6},{"s":"redstreak","c":1.19,"v":23.64},{"s":"redstreak","c":1.25,"v":23.72},{"s":"redstreak","c":1.5,"v":23.64},{"s":"redstreak","c":1.5,"v":23.72},{"s":"redstreak","c":1.62,"v":23.61},{"s":"redstreak","c":1.65,"v":23.75},{"s":"redstreak","c":1.7,"v":23.71},{"s":"redstreak","c":1.77,"v":23.61},{"s":"redstreak","c":2.17,"v":23.68},{"s":"redstreak","c":2.39,"v":23.81},{"s":"redstreak","c":3.69,"v":23.49},{"s":"redstreak","c":1.93,"v":23.85},{"s":"redstreak","c":1.99,"v":23.81},{"s":"redstreak","c":2.07,"v":23.85},{"s":"redstreak","c":2.2,"v":23.85},{"s":"redstreak","c":2.2,"v":23.98},{"s":"redstreak","c":2.16,"v":24.05},{"s":"redstreak","c":2.22,"v":24.17},{"s":"redstreak","c":1.58,"v":23.98},{"s":"redstreak","c":1.65,"v":24.08},{"s":"redstreak","c":1.54,"v":24.12},{"s":"redstreak","c":1.42,"v":24.08},{"s":"redstreak","c":1.83,"v":24.05},{"s":"redstreak","c":1.91,"v":24.05},{"s":"redstreak","c":1.99,"v":24.05},{"s":"redstreak","c":2.56,"v":24.11},{"s":"redstreak","c":1.45,"v":24.32},{"s":"redstreak","c":1.59,"v":24.27},{"s":"redstreak","c":1.74,"v":24.32},{"s":"redstreak","c":2.11,"v":24.32},{"s":"redstreak","c":1.31,"v":24.49},{"s":"redstreak","c":1.42,"v":24.48},{"s":"redstreak","c":1.62,"v":24.45},{"s":"redstreak","c":1.62,"v":24.57},{"s":"redstreak","c":1.79,"v":24.53},{"s":"redstreak","c":1.91,"v":24.39},{"s":"redstreak","c":1.99,"v":24.39},{"s":"redstreak","c":2.04,"v":24.47},{"s":"redstreak","c":1.93,"v":24.59},{"s":"redstreak","c":2.06,"v":24.63},{"s":"redstreak","c":2.25,"v":24.59},{"s":"redstreak","c":1.42,"v":24.64},{"s":"redstreak","c":1.63,"v":24.67},{"s":"redstreak","c":1.74,"v":24.79},{"s":"redstreak","c":1.92,"v":24.74},{"s":"redstreak","c":1.75,"v":24.88},{"s":"redstreak","c":1.83,"v":24.84},{"s":"redstreak","c":1.59,"v":24.92},{"s":"redstreak","c":1.66,"v":24.97},{"s":"redstreak","c":1.91,"v":24.94},{"s":"redstreak","c":1.93,"v":25.04},{"s":"redstreak","c":2.06,"v":24.92},{"s":"redstreak","c":2.1,"v":24.92},{"s":"redstreak","c":2.2,"v":24.84},{"s":"redstreak","c":2.25,"v":24.91},{"s":"redstreak","c":1.38,"v":24.92},{"s":"redstreak","c":1.38,"v":25.04},{"s":"redstreak","c":1.38,"v":25.12},{"s":"redstreak","c":1.48,"v":25.1},{"s":"redstreak","c":1.53,"v":25.15},{"s":"redstreak","c":1.56,"v":25.22},{"s":"redstreak","c":1.21,"v":25.22},{"s":"redstreak","c":1.16,"v":25.31},{"s":"redstreak","c":1.29,"v":25.35},{"s":"redstreak","c":1.45,"v":25.33},{"s":"redstreak","c":1.49,"v":25.44},{"s":"redstreak","c":1.67,"v":25.35},{"s":"redstreak","c":1.73,"v":25.42},{"s":"redstreak","c":1.83,"v":25.33},{"s":"redstreak","c":1.83,"v":25.42},{"s":"redstreak","c":1.88,"v":25.55},{"s":"redstreak","c":1.99,"v":25.28},{"s":"redstreak","c":2.04,"v":25.39},{"s":"redstreak","c":2.39,"v":25.22},{"s":"redstreak","c":2.47,"v":25.18},{"s":"redstreak","c":2.6,"v":25.1},{"s":"redstreak","c":2.56,"v":25.41},{"s":"redstreak","c":3.47,"v":25.27},{"s":"redstreak","c":1.22,"v":25.55},{"s":"redstreak","c":1.33,"v":25.59},{"s":"redstreak","c":1.46,"v":25.71},{"s":"redstreak","c":1.38,"v":25.91},{"s":"redstreak","c":1.5,"v":25.99},{"s":"redstreak","c":1.45,"v":25.82},{"s":"redstreak","c":1.64,"v":25.82},{"s":"redstreak","c":1.68,"v":25.93},{"s":"redstreak","c":1.77,"v":25.86},{"s":"redstreak","c":1.85,"v":25.59},{"s":"redstreak","c":1.98,"v":25.78},{"s":"redstreak","c":1.93,"v":25.91},{"s":"redstreak","c":2.2,"v":25.65},{"s":"redstreak","c":2.29,"v":25.79},{"s":"redstreak","c":2.56,"v":25.91},{"s":"redstreak","c":2.66,"v":25.65},{"s":"redstreak","c":2.71,"v":25.82},{"s":"redstreak","c":3.19,"v":25.91},{"s":"redstreak","c":1.99,"v":25.55},{"s":"redstreak","c":1.68,"v":25.65},{"s":"redstreak","c":1.93,"v":25.36},{"s":"redstreak","c":1.5,"v":25.46},{"s":"redstreak","c":1.71,"v":25.59},{"s":"redstreak","c":1.37,"v":25.95},{"s":"redstreak","c":1.66,"v":25.95},{"s":"redstreak","c":1.91,"v":25.99},
{"s":"redstreak","c":-0.17,"v":22.85},{"s":"redstreak","c":-0.14,"v":22.94},{"s":"redstreak","c":-0.25,"v":23.08},{"s":"redstreak","c":-0.82,"v":23.08},{"s":"redstreak","c":-0.9,"v":23.36},{"s":"redstreak","c":-0.74,"v":23.36},{"s":"redstreak","c":-0.37,"v":23.45},{"s":"redstreak","c":-0.31,"v":23.67},{"s":"redstreak","c":-1.2,"v":23.85},{"s":"redstreak","c":-0.82,"v":23.9},{"s":"redstreak","c":-0.75,"v":24.04},{"s":"redstreak","c":-0.53,"v":23.85},{"s":"redstreak","c":0.12,"v":22.81},{"s":"redstreak","c":0.12,"v":23.21},{"s":"redstreak","c":0.23,"v":23.3},{"s":"redstreak","c":0.17,"v":23.53},{"s":"redstreak","c":0.37,"v":23.72},{"s":"redstreak","c":0.34,"v":23.95},{"s":"redstreak","c":-0.95,"v":24.37},{"s":"redstreak","c":0.46,"v":24.44},{"s":"redstreak","c":-0.03,"v":24.59},{"s":"redstreak","c":0.08,"v":24.64},{"s":"redstreak","c":-0.76,"v":24.68},{"s":"redstreak","c":-0.6,"v":24.71},{"s":"redstreak","c":0.42,"v":24.78},{"s":"redstreak","c":0.34,"v":24.86},{"s":"redstreak","c":-0.6,"v":25.02},{"s":"redstreak","c":-0.17,"v":25.18},{"s":"redstreak","c":0.21,"v":25.18},{"s":"redstreak","c":0.11,"v":25.26},{"s":"redstreak","c":-0.28,"v":25.33},{"s":"redstreak","c":-0.41,"v":25.42},{"s":"redstreak","c":0.04,"v":25.46},{"s":"redstreak","c":0.4,"v":25.51},{"s":"redstreak","c":-0.8,"v":25.64},{"s":"redstreak","c":-0.12,"v":25.59},{"s":"redstreak","c":-0.04,"v":25.73},{"s":"redstreak","c":0.56,"v":25.69},{"s":"redstreak","c":0.11,"v":25.86},{"s":"redstreak","c":0.34,"v":25.78},{"s":"redstreak","c":0.21,"v":25.98},{"s":"redstreak","c":0.01,"v":25.95},{"s":"redstreak","c":0.69,"v":25.98},{"s":"redstreak","c":0.79,"v":25.91},{"s":"redstreak","c":1.02,"v":23.08},{"s":"redstreak","c":1.25,"v":22.97},{"s":"redstreak","c":1.42,"v":23.38},{"s":"redstreak","c":0.04,"v":19.75},{"s":"redstreak","c":1.24,"v":19.96},{"s":"redstreak","c":1.23,"v":20.04},{"s":"redstreak","c":1.59,"v":19.88},{"s":"redstreak","c":-0.66,"v":20.62},{"s":"redstreak","c":-0.32,"v":21.11},{"s":"redstreak","c":-0.42,"v":21.65},{"s":"redstreak","c":-0.14,"v":22.25},{"s":"redstreak","c":1.91,"v":20.03},{"s":"redstreak","c":1.73,"v":20.76},{"s":"redstreak","c":-1.96,"v":25.65},{"s":"redstreak","c":-1.45,"v":25.73}
]
},
"encoding":{
"x":{"field":"c","type":"quantitative","title":"V-I","scale":{"domain":[-5.37,4.12],"nice":false,"zero":false},"axis":{"values":[-4,-2,0,2,4],"titlePadding":32,"labelPadding":4}},
"y":{"field":"v","type":"quantitative","title":"V","scale":{"domain":[18.08,28.05],"reverse":true,"nice":false,"zero":false},"axis":{"values":[20,22,24,26,28],"titlePadding":35}},
"color":{"field":"s","type":"nominal",
"scale":{"domain":["-2.0","-1.5","-1.0","-0.5","0.0","0.5","GC","brightblue","redstreak"],"range":["#3b4cc0","#6788ee","#aac7fd","#f2cbb7","#f4987a","#b40426","#ffa500","#0000ff","#ff0000"]},
"legend":{"title":null,"orient":"none","legendX":17,"legendY":21,"padding":15,"fillColor":"rgba(255,255,255,0.8)","strokeColor":"#cccccc","cornerRadius":6,"rowPadding":16,"labelOffset":57,"labelFont":"DejaVu Sans","labelFontSize":32,"labelColor":"#222","labelLimit":0,"symbolStrokeWidth":3.5,
"labelExpr":"indexof(['GC','brightblue','redstreak'], datum.value) >= 0 ? datum.value : 'log 𝑍/𝑍⊙ =' + datum.value"}}
},
"layer":[
{"data":{"name":"pts"},"mark":{"type":"point","filled":false,"strokeWidth":3.3,"opacity":1},
"encoding":{
"shape":{"field":"s","type":"nominal","scale":{"domain":["-2.0","-1.5","-1.0","-0.5","0.0","0.5","GC","brightblue","redstreak"],"range":["M-1.35,0H2.3M0,-0.82M0,0.82","M-1.35,0H2.3M0,-0.82M0,0.82","M-1.35,0H2.3M0,-0.82M0,0.82","M-1.35,0H2.3M0,-0.82M0,0.82","M-1.35,0H2.3M0,-0.82M0,0.82","M-1.35,0H2.3M0,-0.82M0,0.82","M-1,0H1M0,-1V1","M-1,0H1M0,-1V1","M-1,0H1M0,-1V1"]},
"legend":{"title":null,"orient":"none","legendX":17,"legendY":21,"padding":15,"fillColor":"rgba(255,255,255,0.8)","strokeColor":"#cccccc","cornerRadius":6,"rowPadding":16,"labelOffset":57,"labelFont":"DejaVu Sans","labelFontSize":32,"labelColor":"#222","labelLimit":0,"symbolStrokeWidth":3.5,
"labelExpr":"indexof(['GC','brightblue','redstreak'], datum.value) >= 0 ? datum.value : 'log 𝑍/𝑍⊙ =' + datum.value"}},
"size":{"field":"s","type":"nominal","scale":{"type":"ordinal","domain":["-2.0","-1.5","-1.0","-0.5","0.0","0.5","GC","brightblue","redstreak"],"range":[1600,1600,1600,1600,1600,1600,110,110,110]},
"legend":{"title":null,"orient":"none","legendX":17,"legendY":21,"padding":15,"fillColor":"rgba(255,255,255,0.8)","strokeColor":"#cccccc","cornerRadius":6,"rowPadding":16,"labelOffset":57,"labelFont":"DejaVu Sans","labelFontSize":32,"labelColor":"#222","labelLimit":0,"symbolStrokeWidth":3.5,
"labelExpr":"indexof(['GC','brightblue','redstreak'], datum.value) >= 0 ? datum.value : 'log 𝑍/𝑍⊙ =' + datum.value"}}
}},
{"data":{"name":"iso"},"mark":{"type":"line","opacity":0.9},"encoding":{"order":{"field":"i","type":"quantitative"},"strokeWidth":{"condition":{"test":"datum.s == '0.5'","value":4.2},"value":3.5}}}
]
}
